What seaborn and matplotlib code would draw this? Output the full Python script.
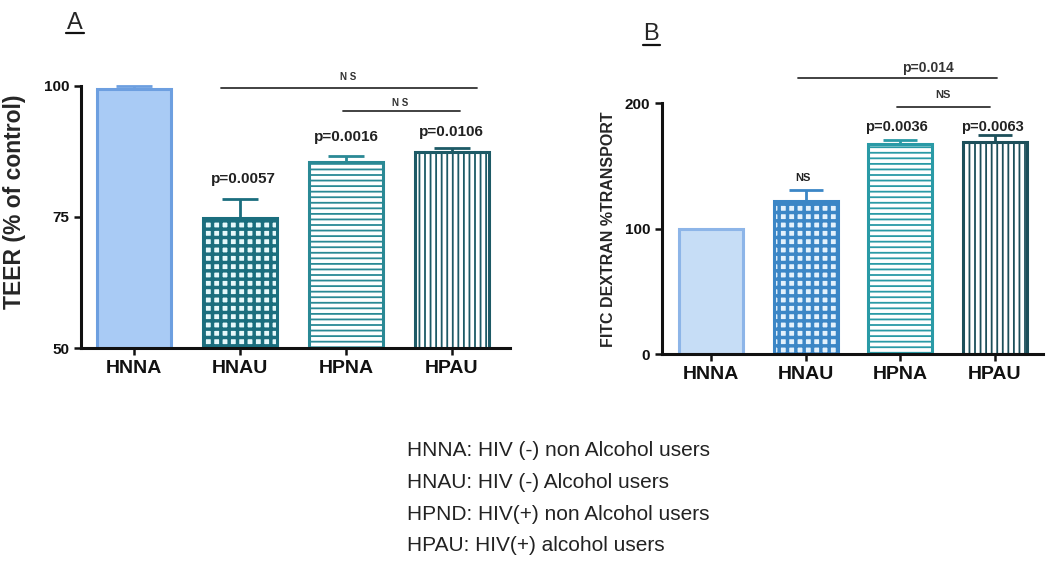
import matplotlib
matplotlib.use("Agg")
import matplotlib.pyplot as plt
from matplotlib.lines import Line2D
import seaborn as sns
import pandas as pd
import numpy as np

sns.set_style("white")
plt.rcParams['font.family'] = ['Liberation Sans', 'DejaVu Sans']

groups = ["HNNA", "HNAU", "HPNA", "HPAU"]
teer_mean = [99.5, 74.8, 85.5, 87.4]
teer_err = [0.4, 3.6, 1.1, 0.8]
fitc_mean = [100, 122, 167, 169]
fitc_err = [0, 9, 3.5, 5.5]
teer_pvals = ["", "p=0.0057", "p=0.0016", "p=0.0106"]
fitc_pvals = ["", "NS", "p=0.0036", "p=0.0063"]
legend_lines = ["HNNA: HIV (-) non Alcohol users",
                "HNAU: HIV (-) Alcohol users",
                "HPND: HIV(+) non Alcohol users",
                "HPAU: HIV(+) alcohol users"]

fig = plt.figure(figsize=(10.5, 5.72), dpi=100)
axA = fig.add_axes([0.0771, 0.3916, 0.4089, 0.4581])
axB = fig.add_axes([0.6305, 0.3811, 0.3628, 0.4388])

dfA = pd.DataFrame({"group": groups, "value": teer_mean})
dfB = pd.DataFrame({"group": groups, "value": fitc_mean})

faceA = ["#a9cbf5", "#e6f8fb", "#ffffff", "#ffffff"]
edgeA = ["#6d9fe0", "#1b6e7e", "#2a8995", "#1d5a66"]
hatchA = ["", "++", "---", "|||"]
faceB = ["#c6ddf6", "#e3f1fc", "#ffffff", "#ffffff"]
edgeB = ["#8db5e8", "#3b86c6", "#2a9aa6", "#1c4f5a"]
hatchB = ["", "++", "---", "|||"]


def draw(ax, df, face, edge, hatch, width):
    sns.barplot(data=df, x="group", y="value", hue="group", palette=face,
                legend=False, width=width, ax=ax, errorbar=None,
                linewidth=2.2)
    for p, fc, ec, h in zip(ax.patches, face, edge, hatch):
        p.set_facecolor(fc)
        p.set_edgecolor(ec)
        p.set_linewidth(2.2)
        if h:
            p.set_hatch(h)
            try:
                p.set_hatch_linewidth(2.5 if '+' in h else 1.3)
            except Exception:
                pass


draw(axA, dfA, faceA, edgeA, hatchA, 0.69)
draw(axB, dfB, faceB, edgeB, hatchB, 0.68)

xs = np.arange(len(groups))
for i in range(4):
    axA.errorbar(xs[i], teer_mean[i], yerr=[[0], [teer_err[i]]], fmt='none',
                 ecolor=edgeA[i], elinewidth=2, capthick=2, capsize=13,
                 clip_on=False, zorder=5)
    if fitc_err[i] > 0:
        axB.errorbar(xs[i], fitc_mean[i], yerr=[[0], [fitc_err[i]]], fmt='none',
                     ecolor=edgeB[i], elinewidth=2, capthick=2, capsize=12,
                     clip_on=False, zorder=5)

# Axes styling
for ax in (axA, axB):
    sns.despine(ax=ax)
    ax.spines['left'].set_linewidth(2.2)
    ax.spines['bottom'].set_linewidth(2.2)
    ax.spines['left'].set_color('#111111')
    ax.spines['bottom'].set_color('#111111')
    ax.tick_params(axis='both', direction='out', length=5, width=1.8,
                   colors='#111111', bottom=True, left=True)
    ax.set_xlabel("")
    for lab in ax.get_xticklabels():
        lab.set_fontweight('bold')
        lab.set_fontsize(14)

axA.set_ylim(50, 100)
axA.set_yticks([50, 75, 100])
axA.set_yticklabels(["50", "75", "100"], fontweight='bold', fontsize=11)
axA.set_xlim(-0.5, 3.55)
axA.set_ylabel("TEER (% of control)", fontsize=16.5, fontweight='bold')
axA.yaxis.set_label_coords(-0.127, 0.557)

axB.set_ylim(0, 200)
axB.set_yticks([0, 100, 200])
axB.set_yticklabels(["0", "100", "200"], fontweight='bold', fontsize=11)
axB.set_xlim(-0.52, 3.51)
axB.set_ylabel("FITC DEXTRAN %TRANSPORT", fontsize=11.5, fontweight='bold')
axB.yaxis.set_label_coords(-0.122, 0.498)

# p-values
pA_pos = [None, (1.03, 82.3), (2.0, 90.3), (2.99, 91.2)]
for lab, pos in zip(teer_pvals, pA_pos):
    if lab:
        axA.text(pos[0], pos[1], lab, ha='center', va='center', fontsize=11,
                 fontweight='bold', color='#222222')
pB_pos = [None, (0.97, 140), (1.96, 181), (2.98, 181)]
for lab, pos in zip(fitc_pvals, pB_pos):
    if lab:
        axB.text(pos[0], pos[1], lab, ha='center', va='center',
                 fontsize=8 if lab == "NS" else 10.5,
                 fontweight='bold', color='#222222')

# Significance lines
lc = '#333333'
axA.plot([0.82, 3.24], [99.6, 99.6], color=lc, lw=1.3, clip_on=False)
axA.text(2.02, 101.7, "N S", ha='center', va='center', fontsize=7, fontweight='bold', color=lc)
axA.plot([1.97, 3.08], [95.2, 95.2], color=lc, lw=1.3, clip_on=False)
axA.text(2.51, 96.8, "N S", ha='center', va='center', fontsize=7, fontweight='bold', color=lc)

axB.plot([0.915, 3.02], [220, 220], color=lc, lw=1.3, clip_on=False)
axB.text(2.29, 228, "p=0.014", ha='center', va='center', fontsize=10, fontweight='bold', color=lc)
axB.plot([1.97, 2.95], [197, 197], color=lc, lw=1.3, clip_on=False)
axB.text(2.45, 206, "NS", ha='center', va='center', fontsize=8, fontweight='bold', color=lc)

# Panel letters with underline
fig.text(0.0714, 0.960, 'A', ha='center', va='center', fontsize=17)
fig.add_artist(Line2D([0.063, 0.080], [0.942, 0.942], transform=fig.transFigure,
                      color='#111111', lw=1.6))
fig.text(0.620, 0.941, 'B', ha='center', va='center', fontsize=17)
fig.add_artist(Line2D([0.612, 0.629], [0.921, 0.921], transform=fig.transFigure,
                      color='#111111', lw=1.6))

# Legend text
ys = [0.213, 0.157, 0.100, 0.047]
for t, y in zip(legend_lines, ys):
    fig.text(0.3876, y, t, ha='left', va='center', fontsize=15,
             family=['Liberation Sans Narrow', 'Liberation Sans', 'DejaVu Sans'],
             color='#222222')

fig.savefig("out.png", dpi=100)
